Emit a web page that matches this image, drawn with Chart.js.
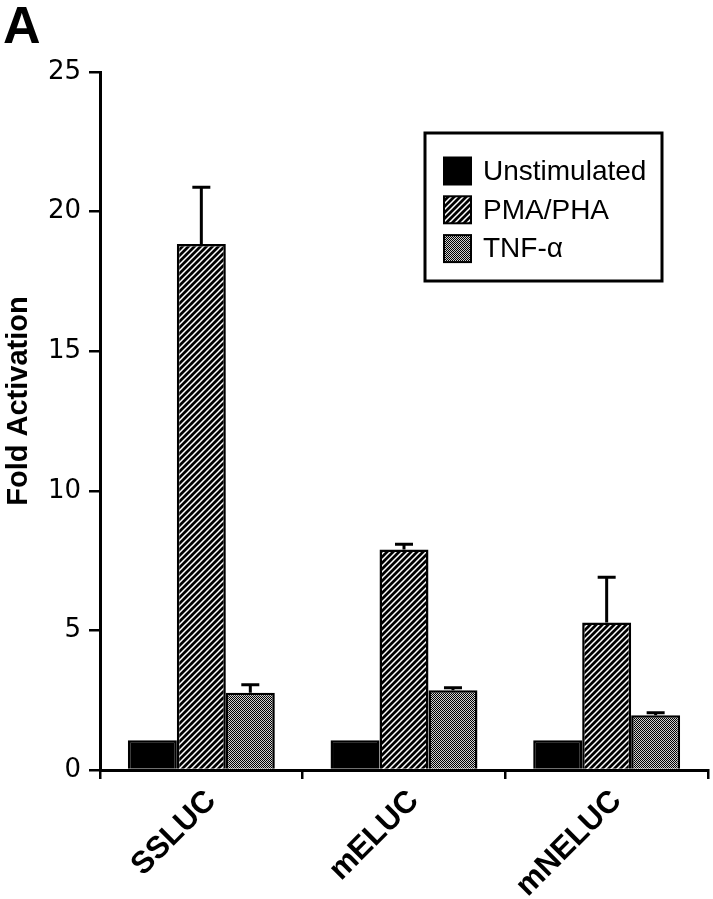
<!DOCTYPE html>
<html><head><meta charset="utf-8">
<script src="https://cdn.jsdelivr.net/npm/chart.js@4.4.1/dist/chart.umd.min.js"></script>
<style>html,body{margin:0;padding:0;background:#fff;overflow:hidden}</style>
</head><body>
<canvas id="c" width="713" height="899"></canvas>
<script>
const categories = ['SSLUC', 'mELUC', 'mNELUC'];
const seriesLabels = ['Unstimulated', 'PMA/PHA', 'TNF-\u03b1'];
const unstimulated = [1.07, 1.07, 1.07];
const pmaPha = [18.84, 7.9, 5.28];
const pmaPhaErr = [2.03, 0.19, 1.62];
const tnfAlpha = [2.77, 2.86, 1.96];
const tnfAlphaErr = [0.28, 0.09, 0.09];
const yTicks = [0, 5, 10, 15, 20, 25];
const yTitle = 'Fold Activation';
const panelLabel = 'A';

function makeHatch() {
  const t = document.createElement('canvas');
  t.width = 6; t.height = 6;
  const g = t.getContext('2d');
  g.fillStyle = '#000'; g.fillRect(0, 0, 6, 6);
  g.strokeStyle = '#fff'; g.lineWidth = 1.5;
  g.beginPath();
  g.moveTo(-1, 7); g.lineTo(7, -1);
  g.moveTo(-4, 4); g.lineTo(4, -4);
  g.moveTo(2, 10); g.lineTo(10, 2);
  g.stroke();
  return g.createPattern(t, 'repeat');
}
function makeStipple() {
  const t = document.createElement('canvas');
  t.width = 2; t.height = 2;
  const g = t.getContext('2d');
  g.fillStyle = '#cfcfcf'; g.fillRect(0, 0, 2, 2);
  g.fillStyle = '#000';
  g.fillRect(0, 0, 1, 1); g.fillRect(1, 1, 1, 1);
  return g.createPattern(t, 'repeat');
}
const hatch = makeHatch();
const stipple = makeStipple();
const fills = ['#000', hatch, stipple];

const errorBars = {
  id: 'errorBars',
  afterDatasetsDraw(chart) {
    const ctx = chart.ctx;
    const y = chart.scales.y;
    ctx.save();
    ctx.strokeStyle = '#000';
    ctx.lineWidth = 3;
    chart.data.datasets.forEach((ds, di) => {
      if (!ds.errors) return;
      const meta = chart.getDatasetMeta(di);
      meta.data.forEach((bar, i) => {
        const top = y.getPixelForValue(ds.data[i] + ds.errors[i]);
        ctx.beginPath();
        ctx.moveTo(bar.x, bar.y);
        ctx.lineTo(bar.x, top);
        ctx.moveTo(bar.x - 9, top);
        ctx.lineTo(bar.x + 9, top);
        ctx.stroke();
      });
    });
    ctx.restore();
  }
};

const extras = {
  id: 'extras',
  afterDraw(chart) {
    const ctx = chart.ctx;
    ctx.save();
    ctx.fillStyle = '#000';
    ctx.font = 'bold 52px "Liberation Sans", Arial, sans-serif';
    ctx.textBaseline = 'alphabetic';
    ctx.textAlign = 'left';
    ctx.fillText(panelLabel, 3, 43);
    ctx.save();
    ctx.translate(27, 401);
    ctx.rotate(-Math.PI / 2);
    ctx.font = 'bold 29px "Liberation Sans", Arial, sans-serif';
    ctx.textAlign = 'center';
    ctx.textBaseline = 'alphabetic';
    ctx.fillText(yTitle, 0, 0);
    ctx.restore();
    const bx = 425, by = 133, bw = 237, bh = 148;
    ctx.fillStyle = '#fff';
    ctx.fillRect(bx, by, bw, bh);
    ctx.strokeStyle = '#000';
    ctx.lineWidth = 3;
    ctx.strokeRect(bx, by, bw, bh);
    ctx.font = '28px "Liberation Sans", Arial, sans-serif';
    ctx.textBaseline = 'middle';
    chart.data.datasets.forEach((ds, i) => {
      const cy = 171 + i * 38.8;
      ctx.fillStyle = ds.backgroundColor;
      ctx.fillRect(444, cy - 13.5, 27, 27);
      ctx.lineWidth = 2;
      ctx.strokeRect(444, cy - 13.5, 27, 27);
      ctx.fillStyle = '#000';
      ctx.fillText(ds.label, 483, cy + 1);
    });
    ctx.restore();
  }
};

const datasetValues = [unstimulated, pmaPha, tnfAlpha];
const datasetErrors = [null, pmaPhaErr, tnfAlphaErr];

new Chart(document.getElementById('c'), {
  type: 'bar',
  data: {
    labels: categories,
    datasets: seriesLabels.map((lab, i) => ({
      label: lab,
      data: datasetValues[i],
      errors: datasetErrors[i],
      backgroundColor: fills[i],
      borderColor: '#000',
      borderWidth: 2.5,
      borderSkipped: 'bottom',
      categoryPercentage: 0.725,
      barPercentage: 1.0
    }))
  },
  options: {
    responsive: false,
    animation: false,
    devicePixelRatio: 1,
    layout: { padding: { top: 72, right: 5, left: 0, bottom: 0 } },
    plugins: { legend: { display: false }, tooltip: { enabled: false }, title: { display: false } },
    scales: {
      x: {
        afterFit(s) { s.height = 129; },
        border: { display: true, color: '#000', width: 3 },
        grid: { display: true, drawOnChartArea: false, drawTicks: true, tickLength: 9, color: '#000', lineWidth: 2.5, offset: true },
        ticks: {
          color: '#000', minRotation: 45, maxRotation: 45, padding: 4, labelOffset: 10,
          font: { family: '"Liberation Sans", Arial, sans-serif', weight: 'bold', size: 31 }
        }
      },
      y: {
        min: 0, max: 25,
        afterFit(s) { s.width = 100; },
        afterBuildTicks(s) { s.ticks = yTicks.map(v => ({ value: v })); },
        border: { display: true, color: '#000', width: 3 },
        grid: { display: true, drawOnChartArea: false, drawTicks: true, tickLength: 11, color: '#000', lineWidth: 2.5 },
        ticks: {
          color: '#000', padding: 8,
          font: { family: '"DejaVu Sans", sans-serif', size: 26 }
        },
        title: { display: false }
      }
    }
  },
  plugins: [errorBars, extras]
});
</script>
</body></html>
